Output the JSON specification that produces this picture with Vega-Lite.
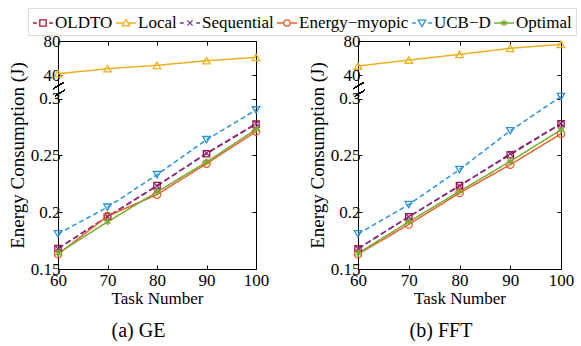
{
  "$schema": "https://vega.github.io/schema/vega-lite/v6.json",
  "padding": {"left": 8, "top": 7, "right": 0, "bottom": 0},
  "bounds": "flush",
  "spacing": 102,
  "background": "white",
  "config": {
    "font": "Liberation Serif",
    "view": {"stroke": null},
    "axis": {"domainColor": "black", "domainWidth": 1, "tickColor": "black", "tickSize": -4, "tickWidth": 1, "labelFont": "Liberation Serif", "labelFontSize": 17, "labelColor": "black", "labelPadding": 2, "titleFont": "Liberation Serif", "titleFontSize": 17, "titleFontWeight": "normal", "titleColor": "black", "grid": false, "labelFlush": false, "labelOverlap": false},
    "title": {"font": "Liberation Serif", "fontSize": 20, "fontWeight": "normal", "color": "black"}
  },
  "datasets": {
    "ge": [
      {"task": 60, "series": "OLDTO", "energy": 0.168}, {"task": 70, "series": "OLDTO", "energy": 0.196}, {"task": 80, "series": "OLDTO", "energy": 0.2234}, {"task": 90, "series": "OLDTO", "energy": 0.2515}, {"task": 100, "series": "OLDTO", "energy": 0.2775},
      {"task": 60, "series": "Local", "energy": 41.5}, {"task": 70, "series": "Local", "energy": 47.4}, {"task": 80, "series": "Local", "energy": 51.4}, {"task": 90, "series": "Local", "energy": 56.8}, {"task": 100, "series": "Local", "energy": 60.8},
      {"task": 60, "series": "Sequential", "energy": 0.168}, {"task": 70, "series": "Sequential", "energy": 0.196}, {"task": 80, "series": "Sequential", "energy": 0.223}, {"task": 90, "series": "Sequential", "energy": 0.252}, {"task": 100, "series": "Sequential", "energy": 0.278},
      {"task": 60, "series": "Energy−myopic", "energy": 0.163}, {"task": 70, "series": "Energy−myopic", "energy": 0.1965}, {"task": 80, "series": "Energy−myopic", "energy": 0.2155}, {"task": 90, "series": "Energy−myopic", "energy": 0.2427}, {"task": 100, "series": "Energy−myopic", "energy": 0.271},
      {"task": 60, "series": "UCB−D", "energy": 0.181}, {"task": 70, "series": "UCB−D", "energy": 0.2044}, {"task": 80, "series": "UCB−D", "energy": 0.233}, {"task": 90, "series": "UCB−D", "energy": 0.2638}, {"task": 100, "series": "UCB−D", "energy": 0.29},
      {"task": 60, "series": "Optimal", "energy": 0.1638}, {"task": 70, "series": "Optimal", "energy": 0.1915}, {"task": 80, "series": "Optimal", "energy": 0.2178}, {"task": 90, "series": "Optimal", "energy": 0.2441}, {"task": 100, "series": "Optimal", "energy": 0.273}
    ],
    "fft": [
      {"task": 60, "series": "OLDTO", "energy": 0.1678}, {"task": 70, "series": "OLDTO", "energy": 0.1959}, {"task": 80, "series": "OLDTO", "energy": 0.2234}, {"task": 90, "series": "OLDTO", "energy": 0.2506}, {"task": 100, "series": "OLDTO", "energy": 0.2778},
      {"task": 60, "series": "Local", "energy": 50.6}, {"task": 70, "series": "Local", "energy": 57.6}, {"task": 80, "series": "Local", "energy": 64.3}, {"task": 90, "series": "Local", "energy": 71.4}, {"task": 100, "series": "Local", "energy": 76.1},
      {"task": 60, "series": "Sequential", "energy": 0.168}, {"task": 70, "series": "Sequential", "energy": 0.196}, {"task": 80, "series": "Sequential", "energy": 0.223}, {"task": 90, "series": "Sequential", "energy": 0.2515}, {"task": 100, "series": "Sequential", "energy": 0.278},
      {"task": 60, "series": "Energy−myopic", "energy": 0.163}, {"task": 70, "series": "Energy−myopic", "energy": 0.1892}, {"task": 80, "series": "Energy−myopic", "energy": 0.2169}, {"task": 90, "series": "Energy−myopic", "energy": 0.2418}, {"task": 100, "series": "Energy−myopic", "energy": 0.269},
      {"task": 60, "series": "UCB−D", "energy": 0.181}, {"task": 70, "series": "UCB−D", "energy": 0.2067}, {"task": 80, "series": "UCB−D", "energy": 0.2375}, {"task": 90, "series": "UCB−D", "energy": 0.2717}, {"task": 100, "series": "UCB−D", "energy": 0.3018},
      {"task": 60, "series": "Optimal", "energy": 0.1638}, {"task": 70, "series": "Optimal", "energy": 0.1915}, {"task": 80, "series": "Optimal", "energy": 0.2184}, {"task": 90, "series": "Optimal", "energy": 0.2447}, {"task": 100, "series": "Optimal", "energy": 0.2725}
    ]
  },
  "hconcat": [
    {
      "width": 198, "height": 228,
      "data": {"name": "ge"},
      "title": {"text": "(a) GE", "orient": "bottom", "frame": "bounds", "anchor": "middle", "offset": 15},
      "resolve": {"axis": {"x": "independent", "y": "independent"}},
      "layer": [
        {"transform": [{"filter": "false"}],
         "mark": {"type": "point", "filled": false, "strokeWidth": 1.3, "opacity": 1},
         "encoding": {
          "x": {"field": "task", "type": "quantitative", "scale": {"domain": [60, 100], "nice": false, "zero": false}, "axis": null},
          "y": {"field": "energy", "type": "quantitative", "scale": {"domain": [0.15, 0.308, 23, 80], "range": [228, 48.5, 48.5, 0], "nice": false, "zero": false}, "axis": null},
          "color": {"field": "series", "type": "nominal", "scale": {"domain": ["OLDTO", "Local", "Sequential", "Energy−myopic", "UCB−D", "Optimal"], "range": ["#A2142F", "#EDB120", "#7E2F8E", "#E6632E", "#2B93D6", "#77AC30"]}, "legend": {"title": null, "orient": "none", "legendX": -30, "legendY": -33, "direction": "horizontal", "columns": 6, "symbolSize": 400, "symbolStrokeWidth": 1.3, "labelFontSize": 17, "labelFont": "Liberation Serif", "labelColor": "black", "labelOffset": 1, "columnPadding": 0, "padding": 4, "strokeColor": "#dddddd", "fillColor": "white", "labelLimit": 0}},
          "shape": {"field": "series", "type": "nominal", "scale": {"domain": ["OLDTO", "Local", "Sequential", "Energy−myopic", "UCB−D", "Optimal"], "range": ["M-1,0H-0.62M-0.32,-0.32H0.32V0.32H-0.32ZM0.62,0H1", "M-1,0H-0.2M0,-0.36L0.38,0.28H-0.38ZM0.2,0H1", "M-1,0H-0.62M-0.26,-0.26L0.26,0.26M-0.26,0.26L0.26,-0.26M0.62,0H1", "M-1,0H-0.32M0.32,0H1M0.32,0A0.32,0.32,0,1,1,-0.32,0A0.32,0.32,0,1,1,0.32,0Z", "M-1,0H-0.62M-0.38,-0.28H0.38L0,0.36ZM0.62,0H1", "M-1,0H1M0,-0.34V0.34M-0.3,-0.17L0.3,0.17M-0.3,0.17L0.3,-0.17"]}, "legend": {"title": null, "orient": "none", "legendX": -30, "legendY": -33, "direction": "horizontal", "columns": 6, "symbolSize": 400, "symbolStrokeWidth": 1.3, "labelFontSize": 17, "labelFont": "Liberation Serif", "labelColor": "black", "labelOffset": 1, "columnPadding": 0, "padding": 4, "strokeColor": "#dddddd", "fillColor": "white", "labelLimit": 0}}
         }},
        {"mark": {"type": "line", "strokeWidth": 1.5},
         "encoding": {
          "x": {"field": "task", "type": "quantitative", "scale": {"domain": [60, 100], "nice": false, "zero": false}, "axis": {"title": "Task Number", "values": [60, 70, 80, 90, 100], "labelPadding": 7, "titlePadding": 2}},
          "y": {"field": "energy", "type": "quantitative", "scale": {"domain": [0.15, 0.308, 23, 80], "range": [228, 48.5, 48.5, 0], "nice": false, "zero": false}, "axis": {"title": "Energy Consumption (J)", "titleFontSize": 19, "values": [0.15, 0.2, 0.25, 0.3, 40, 80], "labelExpr": "toString(datum.value)", "titlePadding": 3}},
          "color": {"field": "series", "type": "nominal", "legend": null},
          "strokeDash": {"field": "series", "type": "nominal", "scale": {"range": [[1, 0], [1, 0], [6, 3], [1, 0], [6, 3], [5, 3]]}, "legend": null}
         }},
        {"transform": [{"filter": "datum.series === 'OLDTO'"}],
         "mark": {"type": "point", "shape": "square", "filled": false, "size": 40, "strokeWidth": 1.3, "opacity": 1},
         "encoding": {
          "x": {"field": "task", "type": "quantitative", "scale": {"domain": [60, 100], "nice": false, "zero": false}, "axis": {"orient": "top", "labels": false, "title": null, "values": [60, 70, 80, 90, 100]}},
          "y": {"field": "energy", "type": "quantitative", "scale": {"domain": [0.15, 0.308, 23, 80], "range": [228, 48.5, 48.5, 0], "nice": false, "zero": false}, "axis": {"orient": "right", "labels": false, "title": null, "values": [0.15, 0.2, 0.25, 0.3, 40, 80]}},
          "color": {"field": "series", "type": "nominal", "legend": null}
         }},
        {"transform": [{"filter": "datum.series === 'Local'"}],
         "mark": {"type": "point", "shape": "triangle-up", "filled": false, "size": 55, "strokeWidth": 1.3, "opacity": 1},
         "encoding": {
          "x": {"field": "task", "type": "quantitative", "scale": {"domain": [60, 100], "nice": false, "zero": false}, "axis": null},
          "y": {"field": "energy", "type": "quantitative", "scale": {"domain": [0.15, 0.308, 23, 80], "range": [228, 48.5, 48.5, 0], "nice": false, "zero": false}, "axis": null},
          "color": {"field": "series", "type": "nominal", "legend": null}
         }},
        {"transform": [{"filter": "datum.series === 'Sequential'"}],
         "mark": {"type": "point", "shape": "M-1,-1L1,1M-1,1L1,-1", "filled": false, "size": 30, "strokeWidth": 1.3, "opacity": 1},
         "encoding": {
          "x": {"field": "task", "type": "quantitative", "scale": {"domain": [60, 100], "nice": false, "zero": false}, "axis": null},
          "y": {"field": "energy", "type": "quantitative", "scale": {"domain": [0.15, 0.308, 23, 80], "range": [228, 48.5, 48.5, 0], "nice": false, "zero": false}, "axis": null},
          "color": {"field": "series", "type": "nominal", "legend": null}
         }},
        {"transform": [{"filter": "datum.series === 'Energy−myopic'"}],
         "mark": {"type": "point", "shape": "circle", "filled": false, "size": 55, "strokeWidth": 1.3, "opacity": 1},
         "encoding": {
          "x": {"field": "task", "type": "quantitative", "scale": {"domain": [60, 100], "nice": false, "zero": false}, "axis": null},
          "y": {"field": "energy", "type": "quantitative", "scale": {"domain": [0.15, 0.308, 23, 80], "range": [228, 48.5, 48.5, 0], "nice": false, "zero": false}, "axis": null},
          "color": {"field": "series", "type": "nominal", "legend": null}
         }},
        {"transform": [{"filter": "datum.series === 'UCB−D'"}],
         "mark": {"type": "point", "shape": "triangle-down", "filled": false, "size": 55, "strokeWidth": 1.3, "opacity": 1},
         "encoding": {
          "x": {"field": "task", "type": "quantitative", "scale": {"domain": [60, 100], "nice": false, "zero": false}, "axis": null},
          "y": {"field": "energy", "type": "quantitative", "scale": {"domain": [0.15, 0.308, 23, 80], "range": [228, 48.5, 48.5, 0], "nice": false, "zero": false}, "axis": null},
          "color": {"field": "series", "type": "nominal", "legend": null}
         }},
        {"transform": [{"filter": "datum.series === 'Optimal'"}],
         "mark": {"type": "point", "shape": "M0,-1V1M-0.87,-0.5L0.87,0.5M-0.87,0.5L0.87,-0.5", "filled": false, "size": 45, "strokeWidth": 1.6, "opacity": 1},
         "encoding": {
          "x": {"field": "task", "type": "quantitative", "scale": {"domain": [60, 100], "nice": false, "zero": false}, "axis": null},
          "y": {"field": "energy", "type": "quantitative", "scale": {"domain": [0.15, 0.308, 23, 80], "range": [228, 48.5, 48.5, 0], "nice": false, "zero": false}, "axis": null},
          "color": {"field": "series", "type": "nominal", "legend": null}
         }},
        {"mark": {"type": "rule", "color": "black", "strokeWidth": 1},
         "encoding": {
          "x": {"datum": 59.05, "type": "quantitative", "scale": {"domain": [60, 100], "nice": false, "zero": false}, "axis": null},
          "x2": {"datum": 61.07},
          "y": {"datum": 23.9, "type": "quantitative", "scale": {"domain": [0.15, 0.308, 23, 80], "range": [228, 48.5, 48.5, 0], "nice": false, "zero": false}, "axis": null},
          "y2": {"datum": 30.9}
         }},
        {"mark": {"type": "rule", "color": "black", "strokeWidth": 1},
         "encoding": {
          "x": {"datum": 59.4, "type": "quantitative", "scale": {"domain": [60, 100], "nice": false, "zero": false}, "axis": null},
          "x2": {"datum": 61.27},
          "y": {"datum": 0.3022, "type": "quantitative", "scale": {"domain": [0.15, 0.308, 23, 80], "range": [228, 48.5, 48.5, 0], "nice": false, "zero": false}, "axis": null},
          "y2": {"datum": 0.3072}
         }}
      ]
    },
    {
      "width": 203, "height": 228,
      "data": {"name": "fft"},
      "title": {"text": "(b) FFT", "orient": "bottom", "frame": "bounds", "anchor": "middle", "offset": 15},
      "resolve": {"axis": {"x": "independent", "y": "independent"}},
      "layer": [
        {"mark": {"type": "line", "strokeWidth": 1.5},
         "encoding": {
          "x": {"field": "task", "type": "quantitative", "scale": {"domain": [60, 100], "nice": false, "zero": false}, "axis": {"title": "Task Number", "values": [60, 70, 80, 90, 100], "labelPadding": 7, "titlePadding": 2}},
          "y": {"field": "energy", "type": "quantitative", "scale": {"domain": [0.15, 0.308, 23, 80], "range": [228, 48.5, 48.5, 0], "nice": false, "zero": false}, "axis": {"title": "Energy Consumption (J)", "titleFontSize": 19, "values": [0.15, 0.2, 0.25, 0.3, 40, 80], "labelExpr": "toString(datum.value)", "titlePadding": 3}},
          "color": {"field": "series", "type": "nominal", "legend": null},
          "strokeDash": {"field": "series", "type": "nominal", "legend": null}
         }},
        {"transform": [{"filter": "datum.series === 'OLDTO'"}],
         "mark": {"type": "point", "shape": "square", "filled": false, "size": 40, "strokeWidth": 1.3, "opacity": 1},
         "encoding": {
          "x": {"field": "task", "type": "quantitative", "scale": {"domain": [60, 100], "nice": false, "zero": false}, "axis": {"orient": "top", "labels": false, "title": null, "values": [60, 70, 80, 90, 100]}},
          "y": {"field": "energy", "type": "quantitative", "scale": {"domain": [0.15, 0.308, 23, 80], "range": [228, 48.5, 48.5, 0], "nice": false, "zero": false}, "axis": {"orient": "right", "labels": false, "title": null, "values": [0.15, 0.2, 0.25, 0.3, 40, 80]}},
          "color": {"field": "series", "type": "nominal", "legend": null}
         }},
        {"transform": [{"filter": "datum.series === 'Local'"}],
         "mark": {"type": "point", "shape": "triangle-up", "filled": false, "size": 55, "strokeWidth": 1.3, "opacity": 1},
         "encoding": {
          "x": {"field": "task", "type": "quantitative", "scale": {"domain": [60, 100], "nice": false, "zero": false}, "axis": null},
          "y": {"field": "energy", "type": "quantitative", "scale": {"domain": [0.15, 0.308, 23, 80], "range": [228, 48.5, 48.5, 0], "nice": false, "zero": false}, "axis": null},
          "color": {"field": "series", "type": "nominal", "legend": null}
         }},
        {"transform": [{"filter": "datum.series === 'Sequential'"}],
         "mark": {"type": "point", "shape": "M-1,-1L1,1M-1,1L1,-1", "filled": false, "size": 30, "strokeWidth": 1.3, "opacity": 1},
         "encoding": {
          "x": {"field": "task", "type": "quantitative", "scale": {"domain": [60, 100], "nice": false, "zero": false}, "axis": null},
          "y": {"field": "energy", "type": "quantitative", "scale": {"domain": [0.15, 0.308, 23, 80], "range": [228, 48.5, 48.5, 0], "nice": false, "zero": false}, "axis": null},
          "color": {"field": "series", "type": "nominal", "legend": null}
         }},
        {"transform": [{"filter": "datum.series === 'Energy−myopic'"}],
         "mark": {"type": "point", "shape": "circle", "filled": false, "size": 55, "strokeWidth": 1.3, "opacity": 1},
         "encoding": {
          "x": {"field": "task", "type": "quantitative", "scale": {"domain": [60, 100], "nice": false, "zero": false}, "axis": null},
          "y": {"field": "energy", "type": "quantitative", "scale": {"domain": [0.15, 0.308, 23, 80], "range": [228, 48.5, 48.5, 0], "nice": false, "zero": false}, "axis": null},
          "color": {"field": "series", "type": "nominal", "legend": null}
         }},
        {"transform": [{"filter": "datum.series === 'UCB−D'"}],
         "mark": {"type": "point", "shape": "triangle-down", "filled": false, "size": 55, "strokeWidth": 1.3, "opacity": 1},
         "encoding": {
          "x": {"field": "task", "type": "quantitative", "scale": {"domain": [60, 100], "nice": false, "zero": false}, "axis": null},
          "y": {"field": "energy", "type": "quantitative", "scale": {"domain": [0.15, 0.308, 23, 80], "range": [228, 48.5, 48.5, 0], "nice": false, "zero": false}, "axis": null},
          "color": {"field": "series", "type": "nominal", "legend": null}
         }},
        {"transform": [{"filter": "datum.series === 'Optimal'"}],
         "mark": {"type": "point", "shape": "M0,-1V1M-0.87,-0.5L0.87,0.5M-0.87,0.5L0.87,-0.5", "filled": false, "size": 45, "strokeWidth": 1.6, "opacity": 1},
         "encoding": {
          "x": {"field": "task", "type": "quantitative", "scale": {"domain": [60, 100], "nice": false, "zero": false}, "axis": null},
          "y": {"field": "energy", "type": "quantitative", "scale": {"domain": [0.15, 0.308, 23, 80], "range": [228, 48.5, 48.5, 0], "nice": false, "zero": false}, "axis": null},
          "color": {"field": "series", "type": "nominal", "legend": null}
         }},
        {"mark": {"type": "rule", "color": "black", "strokeWidth": 1},
         "encoding": {
          "x": {"datum": 59.05, "type": "quantitative", "scale": {"domain": [60, 100], "nice": false, "zero": false}, "axis": null},
          "x2": {"datum": 61.07},
          "y": {"datum": 23.9, "type": "quantitative", "scale": {"domain": [0.15, 0.308, 23, 80], "range": [228, 48.5, 48.5, 0], "nice": false, "zero": false}, "axis": null},
          "y2": {"datum": 30.9}
         }},
        {"mark": {"type": "rule", "color": "black", "strokeWidth": 1},
         "encoding": {
          "x": {"datum": 59.4, "type": "quantitative", "scale": {"domain": [60, 100], "nice": false, "zero": false}, "axis": null},
          "x2": {"datum": 61.27},
          "y": {"datum": 0.3022, "type": "quantitative", "scale": {"domain": [0.15, 0.308, 23, 80], "range": [228, 48.5, 48.5, 0], "nice": false, "zero": false}, "axis": null},
          "y2": {"datum": 0.3072}
         }}
      ]
    }
  ]
}
